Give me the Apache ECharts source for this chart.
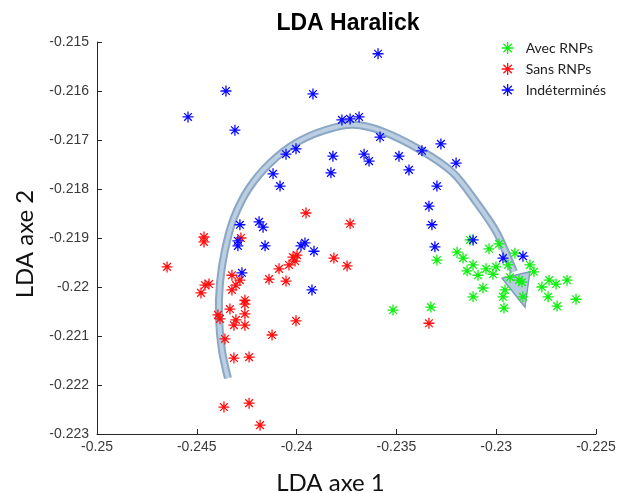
<!DOCTYPE html>
<html>
<head>
<meta charset="utf-8">
<script src="https://cdn.jsdelivr.net/npm/echarts@6/dist/echarts.min.js"></script>
<style>html,body{margin:0;padding:0;background:#fff}#c{width:625px;height:493px}</style>
</head>
<body>
<div id="c"></div>
<script>
const seriesNames = ['Avec RNPs', 'Sans RNPs', 'Indéterminés'];

const avecRNPs = [
  [-0.23517,-0.22047],[-0.23327,-0.22041],[-0.23297,-0.21945],[-0.23196,-0.21929],[-0.23166,-0.21941],
  [-0.23131,-0.21904],[-0.23116,-0.21955],[-0.23146,-0.21967],[-0.23091,-0.21976],[-0.23051,-0.21963],
  [-0.23016,-0.21974],[-0.23001,-0.21959],[-0.23036,-0.21922],[-0.22986,-0.21912],[-0.22906,-0.21931],
  [-0.23116,-0.22020],[-0.23066,-0.22002],[-0.22966,-0.22020],[-0.22956,-0.22006],[-0.22961,-0.22043],
  [-0.22831,-0.21955],[-0.22811,-0.21969],[-0.22866,-0.22020],[-0.22886,-0.21986],[-0.22931,-0.21980],
  [-0.22941,-0.21955],[-0.22771,-0.22000],[-0.22735,-0.21986],[-0.22700,-0.21994],[-0.22645,-0.21986],
  [-0.22740,-0.22020],[-0.22695,-0.22039],[-0.22600,-0.22025],[-0.22871,-0.21990]
];

const sansRNPs = [
  [-0.23953,-0.21849],[-0.24464,-0.21898],[-0.24464,-0.21908],[-0.24279,-0.21900],[-0.23732,-0.21871],
  [-0.24649,-0.21959],[-0.24459,-0.21996],[-0.24439,-0.21994],[-0.24479,-0.22012],[-0.24324,-0.21976],
  [-0.24284,-0.21986],[-0.24304,-0.21996],[-0.24324,-0.22006],[-0.24259,-0.22027],[-0.24259,-0.22035],
  [-0.24334,-0.22045],[-0.24394,-0.22057],[-0.24384,-0.22065],[-0.24304,-0.22067],[-0.24314,-0.22078],
  [-0.24259,-0.22055],[-0.24259,-0.22078],[-0.24359,-0.22106],[-0.24123,-0.22098],[-0.24003,-0.22069],
  [-0.24314,-0.22145],[-0.24238,-0.22143],[-0.24364,-0.22245],[-0.24238,-0.22237],[-0.24183,-0.22282],
  [-0.24138,-0.21984],[-0.24088,-0.21963],[-0.24053,-0.21988],[-0.24038,-0.21955],[-0.24018,-0.21939],
  [-0.24008,-0.21947],[-0.23998,-0.21935],[-0.23813,-0.21941],[-0.23747,-0.21957],[-0.23337,-0.22074]
];

const indetermines = [
  [-0.24354,-0.21600],[-0.24544,-0.21653],[-0.24309,-0.21680],[-0.23918,-0.21606],[-0.24053,-0.21729],
  [-0.24003,-0.21718],[-0.24118,-0.21769],[-0.24083,-0.21794],[-0.23592,-0.21524],[-0.23773,-0.21659],
  [-0.23732,-0.21657],[-0.23687,-0.21653],[-0.23582,-0.21694],[-0.23818,-0.21733],[-0.23828,-0.21767],
  [-0.23662,-0.21729],[-0.23637,-0.21743],[-0.23487,-0.21733],[-0.23437,-0.21761],[-0.23372,-0.21722],
  [-0.23277,-0.21708],[-0.23201,-0.21747],[-0.23297,-0.21794],[-0.23337,-0.21835],[-0.23322,-0.21873],
  [-0.23307,-0.21918],[-0.23116,-0.21904],[-0.22966,-0.21941],[-0.22866,-0.21937],[-0.24284,-0.21873],
  [-0.24188,-0.21867],[-0.24168,-0.21878],[-0.24294,-0.21916],[-0.24294,-0.21906],[-0.24158,-0.21916],
  [-0.23978,-0.21916],[-0.23958,-0.21910],[-0.23913,-0.21927],[-0.24274,-0.21971],[-0.23923,-0.22006]
];

// annotation arrow (data coordinates)
const arrowPath = [
  [-0.24344,-0.22186],[-0.24374,-0.22129],[-0.24389,-0.22061],[-0.24384,-0.21992],[-0.24359,-0.21925],
  [-0.24314,-0.21859],[-0.24238,-0.21798],[-0.24133,-0.21747],[-0.24003,-0.21706],[-0.23858,-0.21680],
  [-0.23717,-0.21669],[-0.23572,-0.21682],[-0.23382,-0.21720],[-0.23216,-0.21767],[-0.23096,-0.21829],
  [-0.22996,-0.21890],[-0.22911,-0.21969]
];
const arrowHead = [[-0.22971,-0.21982],[-0.22831,-0.21969],[-0.22856,-0.22041]];

const xMin = -0.25, xMax = -0.225, xStep = 0.005;
const yMin = -0.223, yMax = -0.215, yStep = 0.001;

const colors = ['#11ee11', '#ff1111', '#0a0aff'];
const star = 'path://M5,0L5,10M0,5L10,5M1.5,1.5L8.5,8.5M1.5,8.5L8.5,1.5';

const fmt = v => String(parseFloat(v.toFixed(3)));

const chart = echarts.init(document.getElementById('c'), null, {renderer: 'canvas'});

function scatter(name, data, color) {
  return {
    name, type: 'scatter', data, symbol: star, symbolSize: 11, z: 3,
    itemStyle: {color: color, borderColor: color, borderWidth: 1.3, opacity: 1}
  };
}

chart.setOption({
  animation: false,
  backgroundColor: '#fff',
  title: {
    text: 'LDA Haralick', left: 343, top: 7, textAlign: 'center',
    textStyle: {fontFamily: 'Liberation Sans', fontWeight: 'bold', fontSize: 23, color: '#000'}
  },
  legend: {
    orient: 'vertical', left: 501, top: 41, padding: 0, itemGap: 7, itemWidth: 12, itemHeight: 12,
    data: seriesNames.map((n, i) => ({name: n, icon: star, itemStyle: {color: colors[i], borderColor: colors[i], borderWidth: 1.3}})),
    textStyle: {fontFamily: 'Lato', fontSize: 14, color: '#222', padding: [0, 0, 0, 7]}
  },
  grid: {left: 97, right: 29, top: 42, bottom: 59, containLabel: false, outerBoundsMode: 'none'},
  xAxis: {
    type: 'value', min: xMin, max: xMax, interval: xStep,
    name: 'LDA axe 1', nameLocation: 'middle', nameGap: 37,
    nameTextStyle: {fontFamily: 'Lato', fontSize: 24, color: '#111', padding: [0, 32, 0, 0]},
    axisLine: {show: true, onZero: false, lineStyle: {color: '#262626', width: 1}},
    axisTick: {show: true, inside: true, length: 5, lineStyle: {color: '#262626'}},
    axisLabel: {fontFamily: 'Liberation Sans', fontSize: 14, color: '#3a3a3a', margin: 6, formatter: fmt},
    splitLine: {show: false}
  },
  yAxis: {
    type: 'value', min: yMin, max: yMax, interval: yStep,
    name: 'LDA axe 2', nameLocation: 'middle', nameGap: 60, nameRotate: 90,
    nameTextStyle: {fontFamily: 'Lato', fontSize: 24, color: '#111', padding: [0, 12, 0, 0]},
    axisLine: {show: true, onZero: false, lineStyle: {color: '#262626', width: 1}},
    axisTick: {show: true, inside: true, length: 5, lineStyle: {color: '#262626'}},
    axisLabel: {fontFamily: 'Liberation Sans', fontSize: 14, color: '#3a3a3a', margin: 8, formatter: fmt},
    splitLine: {show: false}
  },
  series: [
    {
      type: 'custom', coordinateSystem: 'cartesian2d', silent: true, z: 1,
      data: [arrowPath[0]],
      renderItem: (params, api) => {
        const pts = arrowPath.map(p => api.coord(p));
        const head = arrowHead.map(p => api.coord(p));
        return {
          type: 'group',
          children: [
            {type: 'polyline', shape: {points: pts, smooth: 0.3}, style: {stroke: '#8aa7c4', lineWidth: 8, fill: null, lineCap: 'butt'}},
            {type: 'polyline', shape: {points: pts, smooth: 0.3}, style: {stroke: '#bccee1', lineWidth: 4, fill: null, lineCap: 'butt'}},
            {type: 'polygon', shape: {points: head}, style: {fill: 'rgba(165,190,216,0.8)', stroke: '#7f9dbd', lineWidth: 1.5}}
          ]
        };
      }
    },
    scatter(seriesNames[0], avecRNPs, colors[0]),
    scatter(seriesNames[1], sansRNPs, colors[1]),
    scatter(seriesNames[2], indetermines, colors[2])
  ]
});
</script>
</body>
</html>
